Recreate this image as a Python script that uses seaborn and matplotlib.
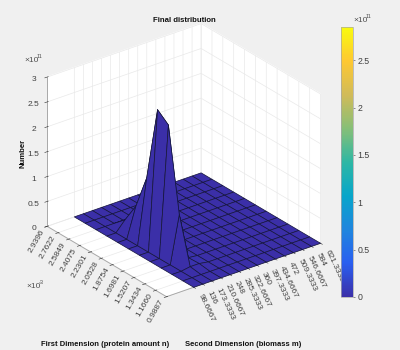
import numpy as np
import pandas as pd
import matplotlib
matplotlib.use('Agg')
import matplotlib.pyplot as plt
import seaborn as sns

sns.set_theme(style='white')
plt.rcParams['font.family'] = ['Liberation Sans', 'DejaVu Sans']

# biomass m (second dimension), one column per tick
m_labels = ['98.6667', '136', '173.3333', '210.6667', '248', '285.3333', '322.6667', '360',
            '397.3333', '434.6667', '472', '509.3333', '546.6667', '584', '621.3333']
# protein amount n (first dimension), x 10^-3
n_labels = ['0.9887', '1.1660', '1.3434', '1.5207', '1.6981', '1.8754', '2.0528', '2.2301',
            '2.4075', '2.5849', '2.7622', '2.9396']
m_values = [float(v) for v in m_labels]
n_values = [float(v) for v in n_labels]
m_lower = -13.3333

# only the column at m = 173.3333 has mass, the rest of the grid is flat
peak_m = '173.3333'
peak_numbers = [0, 0, 0.03, 0.95, 2.62, 2.8, 1.3, 0.6, 0.2, 0, 0, 0]  # x 10^11
second_m = '210.6667'
second_numbers = [0, 0, 0.03, 0.02, 0, 0, 0, 0, 0, 0, 0, 0]

z_ticks = [0, 0.5, 1, 1.5, 2, 2.5, 3]
z_labels = ['0', '0.5', '1', '1.5', '2', '2.5', '3']
cbar_ticks = [0, 0.5, 1, 1.5, 2, 2.5]
cbar_max = 2.85

df = pd.DataFrame(0.0, index=n_labels, columns=m_labels)
df[peak_m] = peak_numbers
df[second_m] = second_numbers

# parula style map
parula = sns.blend_palette(['#3b2fa8', '#2a5ff0', '#1f86de', '#08a6ca', '#2eb7a4',
                            '#87bf77', '#d1bb59', '#fec832', '#f9fb0e'], n_colors=64, as_cmap=True)
norm = plt.Normalize(0, cbar_max)

W = 400.0
H = 350.0
bg = '#f0f0f0'
fig = plt.figure(figsize=(4, 3.5), dpi=100, facecolor=bg)
S = 321.0
cx, cy = 179.5, 164.5
ax = fig.add_axes([(cx - S / 2) / W, (H - cy - S / 2) / H, S / W, S / H], projection='3d')
ax.set_facecolor('none')
ax.set_proj_type('ortho')
ax.view_init(elev=26.9, azim=-127.5)
ax.set_box_aspect((189, 191, 163), zoom=0.976)

M, N = np.meshgrid(m_values, n_values)
Z = df.values
ax.plot_surface(M, N, Z, facecolors=parula(norm(Z)), edgecolor='#14143c', linewidth=0.5,
                rstride=1, cstride=1, shade=False, antialiased=True)

ax.set_xlim(m_lower, m_values[-1], view_margin=0)
ax.set_ylim(n_values[0], n_values[-1], view_margin=0)
ax.set_zlim(0, 3, view_margin=0)

ax.set_xticks(m_values)
ax.set_xticklabels(m_labels, rotation=-65, ha='left', va='top', fontsize=6, color='#404040')
ax.set_yticks(n_values)
ax.set_yticklabels(n_labels, rotation=60, ha='right', va='top', fontsize=6, color='#404040')
ax.set_zticks(z_ticks)
ax.set_zticklabels(z_labels, fontsize=6, color='#404040')
ax.tick_params(axis='x', pad=-5)
ax.tick_params(axis='y', pad=-7)
ax.tick_params(axis='z', pad=-2)

for axis in [ax.xaxis, ax.yaxis, ax.zaxis]:
    axis.set_pane_color((1, 1, 1, 1))
    axis.pane.set_edgecolor('#ffffff')
    axis.line.set_color('#a8a8a8')
    axis.line.set_linewidth(0.7)
    axis._axinfo['grid']['color'] = '#e9e9e9'
    axis._axinfo['grid']['linewidth'] = 0.5
    axis._axinfo['tick']['color'] = '#808080'
    axis._axinfo['tick']['linewidth'] = {True: 0.4, False: 0.3}

fig.text(184 / W, 1 - 20 / H, 'Final distribution', fontsize=5.6, fontweight='bold', ha='center', va='center', color='#111111')
fig.text(105 / W, 1 - 344 / H, 'First Dimension (protein amount n)', fontsize=5.5, fontweight='bold', ha='center', va='center', color='#111111')
fig.text(243 / W, 1 - 344 / H, 'Second Dimension (biomass m)', fontsize=5.5, fontweight='bold', ha='center', va='center', color='#111111')
fig.text(23 / W, 1 - 153 / H, 'Number', fontsize=5.6, fontweight='bold', rotation=90, ha='center', va='center', color='#111111')
fig.text(24 / W, 1 - 61 / H, '×10', fontsize=6, ha='left', va='center', color='#505050')
fig.text(37 / W, 1 - 57 / H, '11', fontsize=4, ha='left', va='center', color='#505050')
fig.text(26 / W, 1 - 286 / H, '×10', fontsize=6, ha='left', va='center', color='#505050')
fig.text(39 / W, 1 - 282 / H, '-3', fontsize=4, ha='left', va='center', color='#505050')

cax = fig.add_axes([341 / W, 1 - 297 / H, 11.5 / W, 270 / H])
sm = plt.cm.ScalarMappable(norm=norm, cmap=parula)
cb = fig.colorbar(sm, cax=cax, ticks=cbar_ticks)
cb.ax.set_yticklabels([str(t) for t in cbar_ticks], fontsize=6.3, color='#404040')
cb.ax.tick_params(length=1.5, width=0.4, color='#404040', pad=2)
cb.outline.set_edgecolor('#a8a8a8')
cb.outline.set_linewidth(0.5)
fig.text(353 / W, 1 - 20 / H, '×10', fontsize=6, ha='left', va='center', color='#505050')
fig.text(366 / W, 1 - 16 / H, '11', fontsize=4, ha='left', va='center', color='#505050')

fig.savefig('out.png', dpi=100, facecolor=bg)
